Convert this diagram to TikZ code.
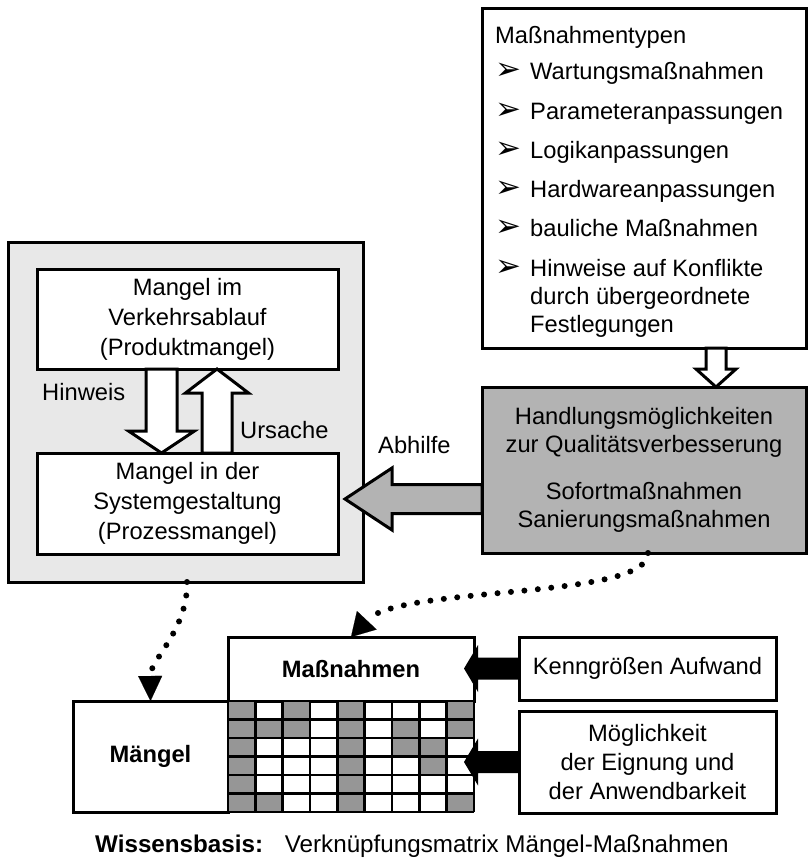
\documentclass[tikz,border=0pt]{standalone}
\usepackage{fontspec}
\setmainfont{Liberation Sans}
\newfontfamily\dejavu{DejaVu Sans}
\usetikzlibrary{arrows.meta,calc}
\definecolor{panelgray}{RGB}{232,232,232}
\definecolor{boxgray}{RGB}{179,179,179}
\definecolor{cellgray}{RGB}{150,150,150}
\newcommand\arrowbullet{{\dejavu\fontsize{31}{31}\selectfont ➢}}
% #1 options, #2 from, #3 to, #4 half shaft, #5 half head, #6 head length
\newcommand\blockarrow[6]{%
  \path[#1] let \p1=#2, \p2=#3,
     \n1={atan2(\y2-\y1,\x2-\x1)}, \n2={veclen(\x2-\x1,\y2-\y1)} in
   [shift={(\p1)}, rotate=\n1]
   (0pt,-#4pt) -- ({\n2-#6pt},-#4pt) -- ({\n2-#6pt},-#5pt) -- (\n2,0pt)
   -- ({\n2-#6pt},#5pt) -- ({\n2-#6pt},#4pt) -- (0pt,#4pt) -- cycle;}
\begin{document}
\begin{tikzpicture}[x=1pt,y=-1pt,
  txt/.style={font=\fontsize{23.7}{30}\selectfont, inner sep=0pt},
  box/.style={txt, draw, line width=3pt, fill=white, align=center, anchor=north west, outer sep=0pt},
  lbl/.style={txt, anchor=base west},
  dotline/.style={line width=6pt, line cap=round, dash pattern=on 0pt off 13.5pt},
  gridline/.style={line width=2.5pt},
  hollow/.style={draw=black, line width=3pt, fill=white, line join=miter}]

\useasboundingbox (0,0) rectangle (811,864);

% left panel
\node[box, fill=panelgray, minimum width=355pt, minimum height=340pt] (panel) at (8,242) {};
\node[box, minimum width=301pt, minimum height=100pt] (top) at (37,269) {Mangel im\\Verkehrsablauf\\(Produktmangel)};
\node[box, minimum width=301pt, minimum height=101pt] (bot) at (37,453) {Mangel in der\\Systemgestaltung\\(Prozessmangel)};
\blockarrow{hollow}{($(top.south)+(-26,0)$)}{($(bot.north)+(-26,0)$)}{15.5}{33}{22}
\blockarrow{hollow}{($(bot.north)+(29.5,0)$)}{($(top.south)+(29.5,0)$)}{15}{31.5}{24}
\node[lbl] (hinweis) at (42,400) {Hinweis};
\node[lbl] (ursache) at (240,438) {Ursache};

% measure types
\node[box, minimum width=324pt, minimum height=339pt] (types) at (482,9) {};
\node[lbl] (th) at (495,43.3) {Maßnahmentypen};
\foreach \yy/\itm [count=\i] in {80/Wartungsmaßnahmen, 119.2/Parameteranpassungen,
   158.4/Logikanpassungen, 197.6/Hardwareanpassungen, 236.8/bauliche Maßnahmen,
   276/Hinweise auf Konflikte}{
  \node[lbl] (bul\i) at (495,\yy) {\arrowbullet};
  \node[lbl] (item\i) at (530,\yy) {\itm};
}
\node[lbl] (item7) at (530,304) {durch übergeordnete};
\node[lbl] (item8) at (530,332) {Festlegungen};

% gray box
\node[box, fill=boxgray, minimum width=324pt, minimum height=166pt,
  font=\fontsize{23.7}{28}\selectfont] (gray) at (482,387)
  {Handlungsmöglichkeiten\\zur Qualitätsverbesserung\\[19pt]Sofortmaßnahmen\\Sanierungsmaßnahmen};
\blockarrow{hollow}{($(types.south)+(72,0)$)}{($(gray.north)+(72,0)$)}{10}{20}{18}
\blockarrow{hollow, fill=boxgray}{($(gray.west |- bot.east)+(0,-4.5)$)}{($(bot.east)+(7,-4.5)$)}{14.5}{31}{47}
\node[lbl] (abhilfe) at (378,453) {Abhilfe};

% knowledge base
\node[box, minimum width=155pt, minimum height=111pt,
  font=\bfseries\fontsize{23.7}{30}\selectfont] (mangel) at (73,701) {Mängel};
\node[box, minimum width=246pt, minimum height=64pt,
  font=\bfseries\fontsize{23.7}{30}\selectfont] (mass) at (228,637) {Maßnahmen};
\foreach \row [count=\r from 0] in {{1,0,1,0,1,0,0,0,1},{1,1,1,0,1,0,1,0,1},
   {1,0,0,0,1,0,1,1,0},{1,0,0,0,1,0,0,1,0},{1,0,0,0,1,0,0,0,0},{1,1,0,0,1,0,0,0,1}}{
  \foreach \v [count=\c from 0] in \row {
    \ifnum\v=1 \fill[cellgray] (228+\c*27.333,701+\r*18.5) rectangle ++(27.333,18.5);\fi
  }
}
\foreach \c in {0,...,9} \draw[gridline] (228+\c*27.333,701) -- ++(0,111);
\foreach \r in {0,...,6} \draw[gridline] (228,701+\r*18.5) -- ++(246,0);

\node[box, minimum width=257pt, minimum height=63pt] (kenn) at (519,637) {Kenngrößen Aufwand};
\node[box, minimum width=257pt, minimum height=102pt,
  font=\fontsize{23.7}{29.3}\selectfont] (moeg) at (519,711) {Möglichkeit\\der Eignung und\\der Anwendbarkeit};
\blockarrow{fill=black}{(kenn.west)}{($(kenn.west -| mass.east)+(-10,0)$)}{11}{23.5}{14}
\blockarrow{fill=black}{(moeg.west)}{($(moeg.west -| mass.east)+(-10,0)$)}{11}{23.5}{14}

% dotted connectors
\draw[dotline, -{Triangle[length=25pt,width=24pt,line width=0.1pt]}]
  ($(panel.south)+(1.5,0)$) .. controls (188,630) and (150,660) .. (mangel.north);
\draw[dotline, -{Triangle[length=23pt,width=27pt,line width=0.1pt]}]
  ($(gray.south)+(4,0)$) .. controls (648,600) and (400,585) .. (mass.north);

\node[lbl, font=\fontsize{24.2}{30}\selectfont] (caption) at (95,852) {\textbf{Wissensbasis:}\hspace{0.9em}Verknüpfungsmatrix Mängel-Maßnahmen};
\end{tikzpicture}
\end{document}
